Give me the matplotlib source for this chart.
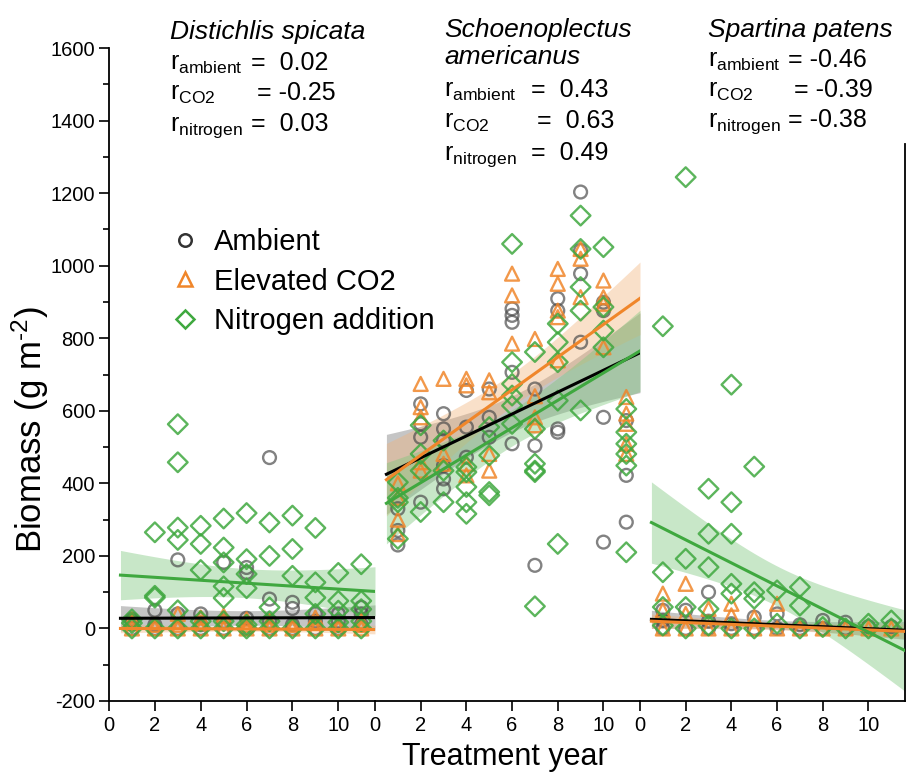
import numpy as np
import matplotlib
matplotlib.use("Agg")
import matplotlib.pyplot as plt
from matplotlib.lines import Line2D

plt.rcParams['font.family'] = ['Liberation Sans', 'DejaVu Sans']
plt.rcParams['mathtext.fontset'] = 'custom'
plt.rcParams['mathtext.rm'] = 'Liberation Sans'
plt.rcParams['mathtext.it'] = 'Liberation Sans:italic'
plt.rcParams['axes.unicode_minus'] = False

years = list(range(1, 12))

# Distichlis spicata: biomass values per treatment year (1..11)
ds_ambient = [[0, 20, 25], [50, 10, 0], [189, 40, 0], [40, 10, 0], [182, 20, 0],
              [168, 154, 28, 0], [471, 81, 20, 0], [72, 55, 10, 0], [0, 20, 40],
              [40, 20, 0], [58, 40, 10]]
ds_co2 = [[0, 15, 25], [0, 10], [0, 10, 40], [0, 15, 30], [0, 20, 35], [0, 10, 25],
          [0, 10, 20], [0, 10], [0, 15, 30], [0, 10], [0, 10, 20]]
ds_nitrogen = [[25, 0, 15], [265, 90, 85, 0], [563, 458, 278, 244, 50, 0],
               [283, 233, 161, 20, 0], [303, 223, 182, 116, 84, 20, 0],
               [318, 191, 150, 111, 10, 0], [292, 200, 58, 20, 0], [311, 219, 145, 0],
               [277, 127, 85, 40, 0], [153, 76, 49, 17, 0], [177, 76, 53, 20, 0]]

# Schoenoplectus americanus
sa_ambient = [[230, 270, 330], [619, 564, 527, 348], [592, 550, 518, 449, 412, 385],
              [656, 555, 472], [660, 582, 527], [881, 863, 844, 706, 509],
              [660, 504, 174], [909, 876, 550, 541], [1203, 1042, 978, 789],
              [899, 876, 582, 238], [573, 422, 293]]
sa_co2 = [[260, 300, 360, 400], [674, 610, 582, 458, 435], [688, 481, 454],
          [688, 670, 454, 422], [684, 651, 481, 435], [978, 918, 785],
          [798, 640, 582, 560], [991, 950, 876, 858, 739], [1046, 1019, 913],
          [959, 913, 895, 775], [638, 592, 564, 509, 481]]
sa_nitrogen = [[403, 360, 348, 247], [560, 481, 435, 321], [518, 435, 348],
               [445, 431, 390, 348, 316], [555, 477, 376, 367],
               [1060, 734, 674, 642, 614, 564], [762, 550, 454, 435, 431, 61],
               [840, 789, 734, 628, 233], [1138, 1046, 941, 876, 601],
               [1051, 886, 821, 775], [605, 541, 509, 481, 449, 210]]

# Spartina patens
sp_ambient = [[50, 22, 0], [50, 0], [100, 20, 0], [13, 0], [31, 0], [40, 0],
              [10, 0], [22, 0], [17, 0], [5], [5]]
sp_co2 = [[96, 50, 0], [123, 40, 0], [54, 0], [68, 36, 0], [31, 0], [68, 0],
          [0], [0], [0], [0], [0]]
sp_nitrogen = [[833, 155, 59, 8], [1244, 192, 59, 0], [385, 261, 169, 54, 8],
               [672, 348, 261, 123, 96, 0], [446, 100, 82, 0], [105, 13],
               [114, 63, 0], [4], [0], [13, 0], [22, 0]]

# regression lines: value at start, value at end, CI half-width at ends, at middle
fit_x = [0.5, 11.6]
ds_fit_ambient = [28, 30, 35, 20]
ds_fit_co2 = [0, -3, 12, 6]
ds_fit_nitrogen = [147, 102, 68, 40]
sa_fit_ambient = [425, 760, 110, 50]
sa_fit_co2 = [410, 910, 100, 45]
sa_fit_nitrogen = [345, 765, 112, 50]
sp_fit_ambient = [25, -5, 25, 12]
sp_fit_co2 = [20, -8, 20, 10]
sp_fit_nitrogen = [292, -61, 112, 55]

species = [["Distichlis spicata"], ["Schoenoplectus", "americanus"], ["Spartina patens"]]
r_ambient = ["0.02", "0.43", "-0.46"]
r_co2 = ["-0.25", "0.63", "-0.39"]
r_nitrogen = ["0.03", "0.49", "-0.38"]

gray = '#4d4d4d'
orange = '#f0862a'
green = '#3fa83f'

W, H = 907, 776
fig = plt.figure(figsize=(W / 100, H / 100), dpi=100)


def px(x, y):
    return x / W, 1 - y / H


panel_px = [(109, 375), (375, 640), (640, 905)]
top_px, bot_px = 48, 701
axes = []
for i, (l, r) in enumerate(panel_px):
    ax = fig.add_axes([l / W, 1 - bot_px / H, (r - l) / W, (bot_px - top_px) / H])
    ax.set_xlim(0, 11.6)
    ax.set_ylim(-200, 1600)
    ax.set_facecolor('none')
    for s in ['top', 'right', 'left']:
        ax.spines[s].set_visible(False)
    ax.spines['bottom'].set_linewidth(1.3)
    ax.set_xticks(range(0, 11, 2))
    ax.tick_params(axis='x', length=7, width=1.2, labelsize=14.5, pad=4)
    if i == 0:
        ax.spines['left'].set_visible(True)
        ax.spines['left'].set_linewidth(1.3)
        ax.set_yticks(range(-200, 1601, 200))
        ax.set_yticks(range(-100, 1600, 200), minor=True)
        ax.tick_params(axis='y', which='major', length=7, width=1.2, labelsize=14.5, pad=3)
        ax.tick_params(axis='y', which='minor', length=4, width=1.2)
    else:
        ax.tick_params(axis='y', left=False, labelleft=False)
    axes.append(ax)

axes[2].spines['right'].set_visible(True)
axes[2].spines['right'].set_linewidth(1.3)
axes[2].spines['right'].set_bounds(-200, 1335)


def flat(groups):
    xs = np.repeat(years, [len(g) for g in groups])
    ys = np.concatenate([np.array(g, dtype=float) for g in groups])
    return xs, ys


def draw_fit(ax, fit, color, band_color, band_alpha):
    y0, y1, hw_end, hw_mid = fit
    xs = np.linspace(fit_x[0], fit_x[1], 60)
    ys = y0 + (y1 - y0) * (xs - fit_x[0]) / (fit_x[1] - fit_x[0])
    t = (xs - np.mean(fit_x)) / ((fit_x[1] - fit_x[0]) / 2)
    hw = np.sqrt(hw_mid ** 2 + (hw_end ** 2 - hw_mid ** 2) * t ** 2)
    ax.fill_between(xs, ys - hw, ys + hw, color=band_color, alpha=band_alpha, lw=0, zorder=1)
    return xs, ys


panels = [
    (ds_ambient, ds_co2, ds_nitrogen, ds_fit_ambient, ds_fit_co2, ds_fit_nitrogen),
    (sa_ambient, sa_co2, sa_nitrogen, sa_fit_ambient, sa_fit_co2, sa_fit_nitrogen),
    (sp_ambient, sp_co2, sp_nitrogen, sp_fit_ambient, sp_fit_co2, sp_fit_nitrogen),
]

for ax, (amb, co2, nit, f_amb, f_co2, f_nit) in zip(axes, panels):
    la = draw_fit(ax, f_amb, 'black', '#808080', 0.45)
    lc = draw_fit(ax, f_co2, orange, '#f2b27a', 0.4)
    ln = draw_fit(ax, f_nit, green, '#7cc77c', 0.42)

    x, y = flat(amb)
    ax.scatter(x, y, s=85, marker='o', facecolors='none', edgecolors=gray,
               linewidths=1.7, alpha=0.7, zorder=3, clip_on=False)
    x, y = flat(co2)
    ax.scatter(x, y, s=100, marker='^', facecolors='none', edgecolors=orange,
               linewidths=1.7, alpha=0.85, zorder=3, clip_on=False)
    x, y = flat(nit)
    ax.scatter(x, y, s=100, marker='D', facecolors='none', edgecolors=green,
               linewidths=1.7, alpha=0.85, zorder=3, clip_on=False)

    ax.plot(*la, color='black', lw=2.2, zorder=4)
    ax.plot(*lc, color=orange, lw=2.2, zorder=4)
    ax.plot(*ln, color=green, lw=2.2, zorder=4)

# species names and correlations
title_x = [170, 444, 708]
eq_x = [251, 531, 788]
title_rows = [[39], [37, 64], [37]]
r_rows = [[70, 100, 131], [97, 128, 160], [67, 97, 127]]
labels = [r'r$_{\mathrm{ambient}}$', r'r$_{\mathrm{CO2}}$', r'r$_{\mathrm{nitrogen}}$']
for i in range(3):
    for line, yy in zip(species[i], title_rows[i]):
        fig.text(*px(title_x[i], yy), line, fontsize=19, style='italic',
                 va='baseline', ha='left')
    vals = [r_ambient[i], r_co2[i], r_nitrogen[i]]
    shift = [0, 6, 0]
    for lab, v, yy, sh in zip(labels, vals, r_rows[i], shift):
        fig.text(*px(title_x[i], yy), lab, fontsize=18, va='baseline', ha='left')
        sep = '= ' if v.startswith('-') else '=  '
        fig.text(*px(eq_x[i] + sh, yy), sep + v, fontsize=18, va='baseline', ha='left')

handles = [
    Line2D([], [], marker='o', ls='none', mfc='none', mec='#333333', ms=9, mew=1.8),
    Line2D([], [], marker='^', ls='none', mfc='none', mec=orange, ms=10, mew=1.8),
    Line2D([], [], marker='D', ls='none', mfc='none', mec=green, ms=9, mew=1.8),
]
axes[0].legend(handles, ['Ambient', 'Elevated CO2', 'Nitrogen addition'],
               loc='upper left', bbox_to_anchor=px(172, 228), bbox_transform=fig.transFigure,
               frameon=False, fontsize=21, handlelength=0.9, handletextpad=0.55,
               labelspacing=0.4, borderaxespad=0, borderpad=0)

fig.text(*px(30, 430), r'Biomass (g m$^{\text{-2}}$)', fontsize=25, rotation=90,
         va='center', ha='center')
fig.text(*px(505, 757), 'Treatment year', fontsize=22, va='center', ha='center')

fig.savefig('out.png', dpi=100)
